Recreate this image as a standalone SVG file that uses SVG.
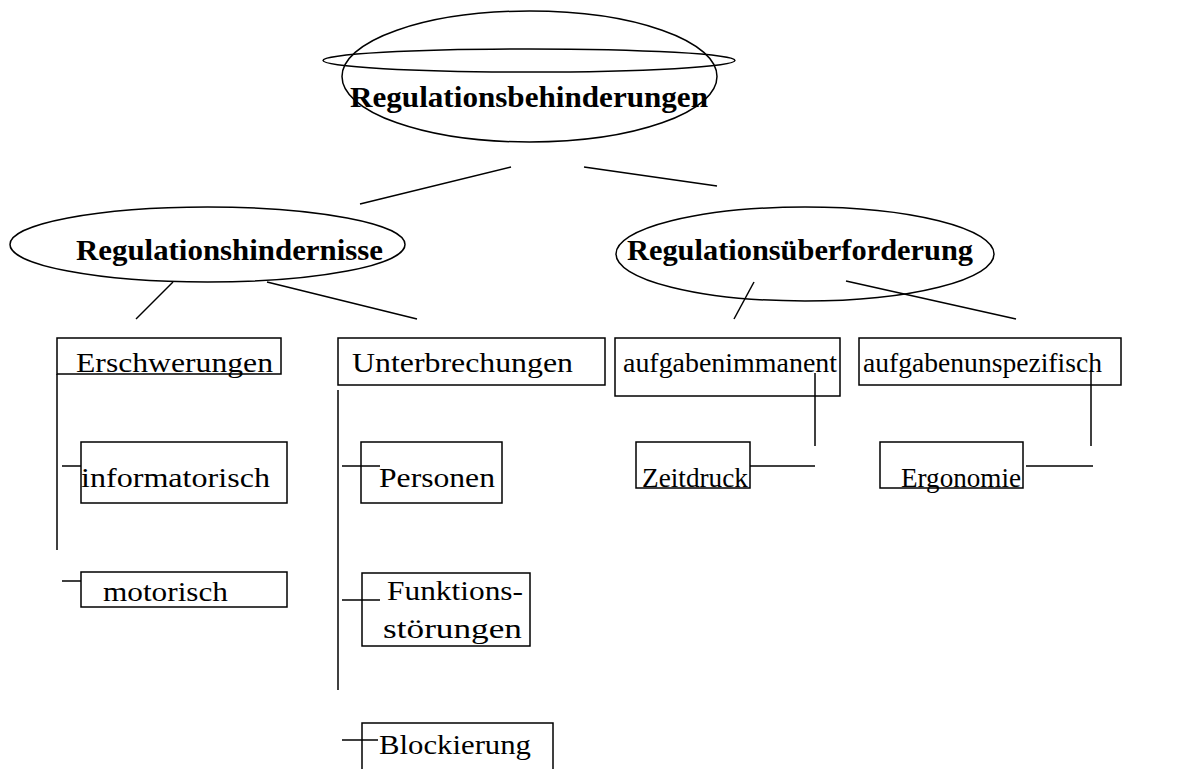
<svg xmlns="http://www.w3.org/2000/svg" width="1202" height="769" viewBox="0 0 1202 769">
<style>
.s{fill:none;stroke:#000;stroke-width:1.5}
.t{font-family:"Liberation Serif","Times New Roman",serif;font-size:27.5px;fill:#000}
.b{font-family:"Liberation Serif","Times New Roman",serif;font-size:29px;font-weight:bold;fill:#000}
</style>
<rect width="1202" height="769" fill="#fff"/>
<g id="connectors" class="s">
<line x1="360" y1="204" x2="511" y2="167"/>
<line x1="584" y1="167" x2="717" y2="186"/>
<line x1="173" y1="282" x2="136" y2="319"/>
<line x1="267" y1="282" x2="417" y2="319"/>
<line x1="754" y1="282" x2="734" y2="319"/>
<line x1="846" y1="281" x2="1016" y2="319"/>
<line x1="57" y1="374" x2="57" y2="550"/>
<line x1="62" y1="466" x2="81" y2="466"/>
<line x1="62" y1="581" x2="81" y2="581"/>
<line x1="338" y1="390" x2="338" y2="690"/>
<line x1="342" y1="466" x2="380" y2="466"/>
<line x1="342" y1="600" x2="380" y2="600"/>
<line x1="342" y1="740" x2="378" y2="740"/>
<line x1="815" y1="373" x2="815" y2="446"/>
<line x1="750" y1="466" x2="815" y2="466"/>
<line x1="1091" y1="370" x2="1091" y2="446"/>
<line x1="1026" y1="466" x2="1093" y2="466"/>
</g>
<g id="root">
<ellipse class="s" cx="529.5" cy="76.5" rx="187.5" ry="65.5"/>
<ellipse class="s" cx="529" cy="60.5" rx="206" ry="11.5"/>
<text class="b" x="350" y="107" textLength="358" lengthAdjust="spacingAndGlyphs">Regulationsbehinderungen</text>
</g>
<g id="hindernisse">
<ellipse class="s" cx="207.5" cy="244.5" rx="197.5" ry="37.5"/>
<text class="b" x="76" y="260" textLength="307" lengthAdjust="spacingAndGlyphs">Regulationshindernisse</text>
</g>
<g id="ueberforderung">
<ellipse class="s" cx="805" cy="254" rx="189" ry="47"/>
<text class="b" x="627" y="260" textLength="346" lengthAdjust="spacingAndGlyphs">Regulationsüberforderung</text>
</g>
<g id="erschwerungen">
<rect class="s" x="57" y="338" width="224" height="36"/>
<text class="t" x="76" y="372" textLength="197" lengthAdjust="spacingAndGlyphs">Erschwerungen</text>
</g>
<g id="informatorisch">
<rect class="s" x="81" y="442" width="206" height="61"/>
<text class="t" x="81" y="487" textLength="189" lengthAdjust="spacingAndGlyphs">informatorisch</text>
</g>
<g id="motorisch">
<rect class="s" x="81" y="572" width="206" height="35"/>
<text class="t" x="103" y="601" textLength="125" lengthAdjust="spacingAndGlyphs">motorisch</text>
</g>
<g id="unterbrechungen">
<rect class="s" x="338" y="338" width="267" height="47"/>
<text class="t" x="352" y="372" textLength="221" lengthAdjust="spacingAndGlyphs">Unterbrechungen</text>
</g>
<g id="personen">
<rect class="s" x="361" y="442" width="141" height="61"/>
<text class="t" x="379" y="487" textLength="116" lengthAdjust="spacingAndGlyphs">Personen</text>
</g>
<g id="funktionsstoerungen">
<rect class="s" x="362" y="573" width="168" height="73"/>
<text class="t" x="387" y="600" textLength="136" lengthAdjust="spacingAndGlyphs">Funktions-</text>
<text class="t" x="383" y="638" textLength="139" lengthAdjust="spacingAndGlyphs">störungen</text>
</g>
<g id="blockierung">
<rect class="s" x="362" y="723" width="191" height="60"/>
<text class="t" x="379" y="754" textLength="152" lengthAdjust="spacingAndGlyphs">Blockierung</text>
</g>
<g id="aufgabenimmanent">
<rect class="s" x="615" y="338" width="225" height="58"/>
<text class="t" x="623" y="372" textLength="214" lengthAdjust="spacingAndGlyphs">aufgabenimmanent</text>
</g>
<g id="zeitdruck">
<rect class="s" x="636" y="442" width="114" height="46"/>
<text class="t" x="642" y="487" textLength="106" lengthAdjust="spacingAndGlyphs">Zeitdruck</text>
</g>
<g id="aufgabenunspezifisch">
<rect class="s" x="859" y="338" width="262" height="47"/>
<text class="t" x="863" y="372" textLength="239" lengthAdjust="spacingAndGlyphs">aufgabenunspezifisch</text>
</g>
<g id="ergonomie">
<rect class="s" x="880" y="442" width="143" height="46"/>
<text class="t" x="901" y="487" textLength="120" lengthAdjust="spacingAndGlyphs">Ergonomie</text>
</g>
</svg>
